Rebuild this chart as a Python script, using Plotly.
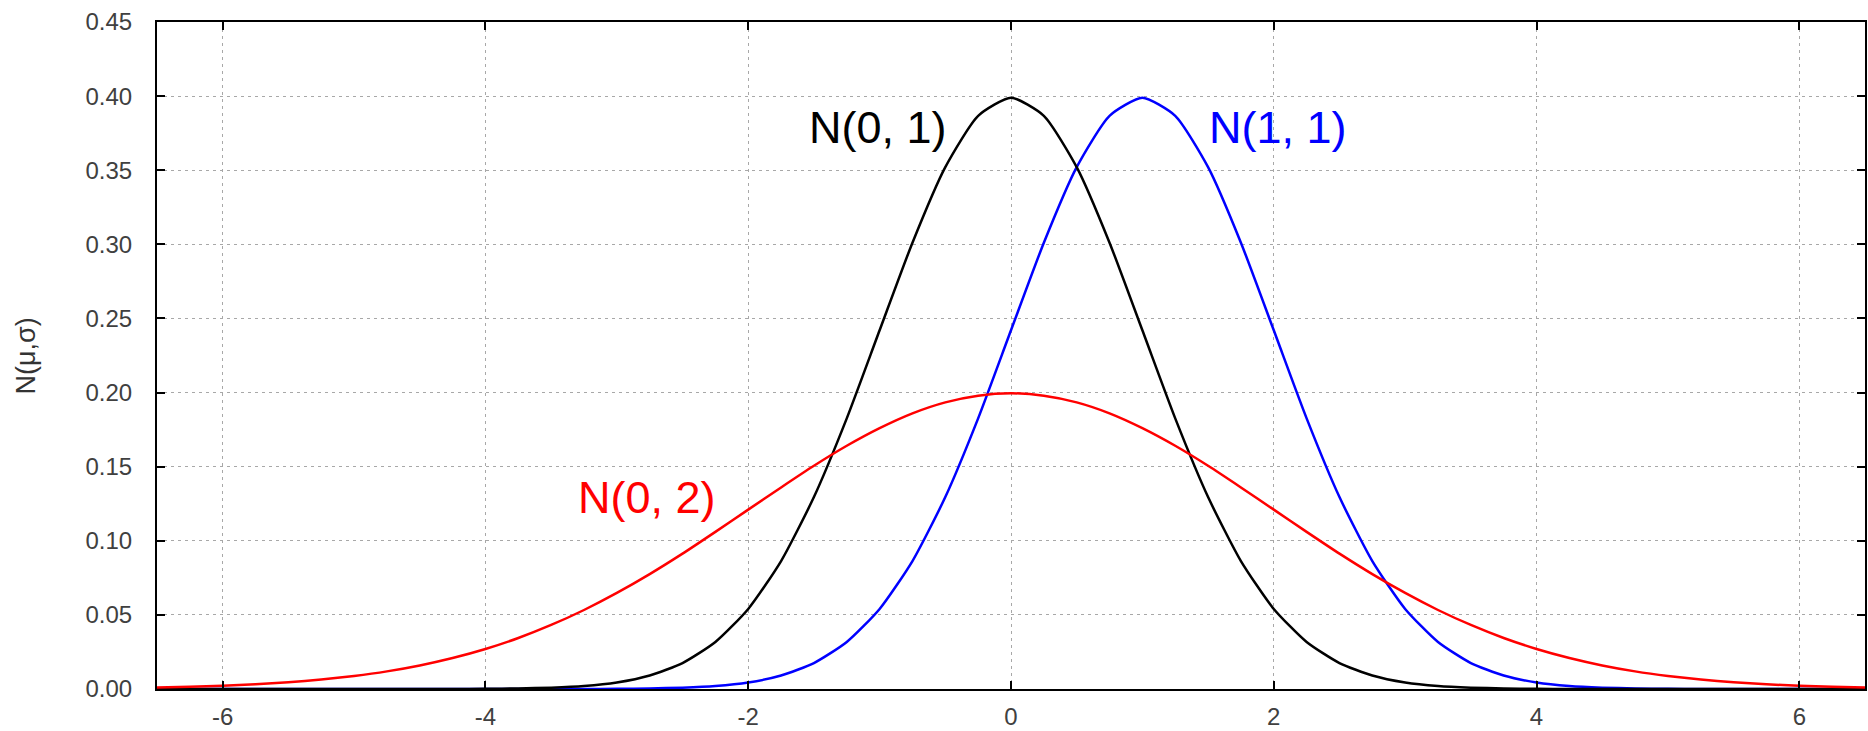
import plotly.graph_objects as go

# x sample positions
x_vals = [-6.5, -6.25, -6.0, -5.75, -5.5, -5.25, -5.0, -4.75, -4.5, -4.25,
          -4.0, -3.75, -3.5, -3.25, -3.0, -2.75, -2.5, -2.25, -2.0, -1.75,
          -1.5, -1.25, -1.0, -0.75, -0.5, -0.25, 0.0, 0.25, 0.5, 0.75,
          1.0, 1.25, 1.5, 1.75, 2.0, 2.25, 2.5, 2.75, 3.0, 3.25,
          3.5, 3.75, 4.0, 4.25, 4.5, 4.75, 5.0, 5.25, 5.5, 5.75,
          6.0, 6.25, 6.5]

# N(0, 1)
n01 = [0, 0, 0, 0, 0, 0, 0, 0, 0, 0,
       0.0001, 0.0004, 0.0009, 0.0020, 0.0044, 0.0091, 0.0175, 0.0317, 0.0540, 0.0863,
       0.1295, 0.1826, 0.2420, 0.3011, 0.3521, 0.3867, 0.3989, 0.3867, 0.3521, 0.3011,
       0.2420, 0.1826, 0.1295, 0.0863, 0.0540, 0.0317, 0.0175, 0.0091, 0.0044, 0.0020,
       0.0009, 0.0004, 0.0001, 0, 0, 0, 0, 0, 0, 0,
       0, 0, 0]

# N(1, 1)
n11 = [0, 0, 0, 0, 0, 0, 0, 0, 0, 0,
       0, 0, 0, 0, 0.0001, 0.0004, 0.0009, 0.0020, 0.0044, 0.0091,
       0.0175, 0.0317, 0.0540, 0.0863, 0.1295, 0.1826, 0.2420, 0.3011, 0.3521, 0.3867,
       0.3989, 0.3867, 0.3521, 0.3011, 0.2420, 0.1826, 0.1295, 0.0863, 0.0540, 0.0317,
       0.0175, 0.0091, 0.0044, 0.0020, 0.0009, 0.0004, 0.0001, 0, 0, 0,
       0, 0, 0]

# N(0, 2)
n02 = [0.0010, 0.0015, 0.0022, 0.0032, 0.0045, 0.0064, 0.0088, 0.0119, 0.0159, 0.0209,
       0.0270, 0.0344, 0.0432, 0.0533, 0.0648, 0.0775, 0.0913, 0.1060, 0.1210, 0.1360,
       0.1506, 0.1641, 0.1760, 0.1860, 0.1934, 0.1979, 0.1995, 0.1979, 0.1934, 0.1860,
       0.1760, 0.1641, 0.1506, 0.1360, 0.1210, 0.1060, 0.0913, 0.0775, 0.0648, 0.0533,
       0.0432, 0.0344, 0.0270, 0.0209, 0.0159, 0.0119, 0.0088, 0.0064, 0.0045, 0.0032,
       0.0022, 0.0015, 0.0010]

labels = ["N(0, 1)", "N(1, 1)", "N(0, 2)"]
label_x = [-1.01, 2.03, -2.77]
label_y = [0.379, 0.379, 0.129]
colors = ["#000000", "#0000ff", "#ff0000"]

x_ticks = [-6, -4, -2, 0, 2, 4, 6]
y_ticks = [0.0, 0.05, 0.10, 0.15, 0.20, 0.25, 0.30, 0.35, 0.40, 0.45]

FONT = "Liberation Sans, Arial, sans-serif"

fig = go.Figure()
for ys, col, name in [(n11, colors[1], labels[1]), (n01, colors[0], labels[0]), (n02, colors[2], labels[2])]:
    fig.add_trace(go.Scatter(x=x_vals, y=ys, mode="lines", name=name,
                             line=dict(color=col, width=2.5, shape="spline", smoothing=0.6)))

for t, lx, ly, c in zip(labels, label_x, label_y, colors):
    fig.add_annotation(x=lx, y=ly, text=t, showarrow=False, xanchor="center", yanchor="middle",
                       font=dict(family=FONT, size=45, color=c))

fig.add_annotation(xref="paper", yref="paper", x=-0.0767, y=0.5, text="N(μ,σ)", textangle=-90,
                   showarrow=False, xanchor="center", yanchor="middle",
                   font=dict(family=FONT, size=27, color="#333333"))

axis_common = dict(showline=True, linecolor="#000000", linewidth=2, mirror="ticks",
                   ticks="inside", ticklen=8, tickcolor="#000000", tickwidth=2,
                   showgrid=True, gridcolor="#a8a8a8", gridwidth=1, griddash="3px,4px",
                   zeroline=False, tickfont=dict(family=FONT, size=24, color="#404040"))

fig.update_xaxes(range=[-6.5, 6.5], tickvals=x_ticks, ticktext=[str(v) for v in x_ticks],
                 ticklabelstandoff=5, **axis_common)
fig.update_yaxes(range=[0, 0.45], tickvals=y_ticks, ticktext=[f"{v:.2f}" for v in y_ticks],
                 ticklabelstandoff=18, **axis_common)

fig.update_layout(width=1868, height=731, showlegend=False,
                  plot_bgcolor="#ffffff", paper_bgcolor="#ffffff",
                  margin=dict(l=157, r=3, t=22, b=42, autoexpand=False))

fig.write_html("out.html")
